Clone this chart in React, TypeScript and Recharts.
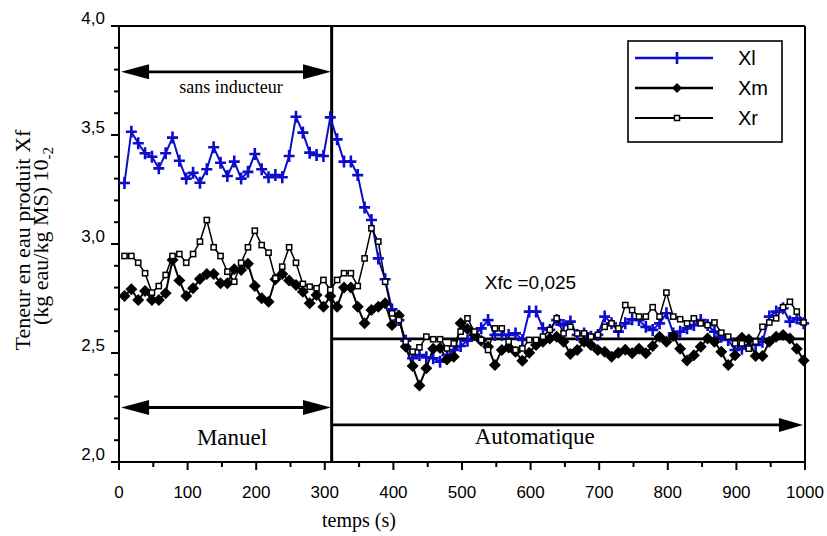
import React from 'react';
import { LineChart, Line, XAxis, YAxis, ReferenceLine, Legend } from 'recharts';

// time (s) of each sample
const times = [
  8, 18, 28, 38, 48, 58, 68, 78, 88, 98,
  108, 118, 128, 138, 148, 158, 168, 178, 188, 198,
  208, 218, 228, 238, 248, 258, 268, 278, 288, 298,
  308, 318, 328, 338, 348, 358, 368, 378, 388, 398,
  408, 418, 428, 438, 448, 458, 468, 478, 488, 498,
  508, 518, 528, 538, 548, 558, 568, 578, 588, 598,
  608, 618, 628, 638, 648, 658, 668, 678, 688, 698,
  708, 718, 728, 738, 748, 758, 768, 778, 788, 798,
  808, 818, 828, 838, 848, 858, 868, 878, 888, 898,
  908, 918, 928, 938, 948, 958, 968, 978, 988, 998,
];

const xl = [
  3.28, 3.515, 3.462, 3.416, 3.4, 3.347, 3.416, 3.488, 3.382, 3.3,
  3.327, 3.281, 3.343, 3.444, 3.373, 3.312, 3.378, 3.3, 3.331, 3.413,
  3.343, 3.306, 3.316, 3.306, 3.404, 3.584, 3.511, 3.419, 3.408, 3.404,
  3.581, 3.48, 3.378, 3.378, 3.316, 3.168, 3.11, 2.934, 2.838, 2.7,
  2.651, 2.556, 2.476, 2.491, 2.48, 2.476, 2.46, 2.49, 2.514, 2.532,
  2.556, 2.583, 2.613, 2.651, 2.583, 2.583, 2.583, 2.59, 2.56, 2.69,
  2.69, 2.613, 2.606, 2.651, 2.628, 2.644, 2.583, 2.59, 2.575, 2.583,
  2.667, 2.636, 2.598, 2.636, 2.655, 2.651, 2.62, 2.606, 2.636, 2.682,
  2.59, 2.598, 2.613, 2.628, 2.651, 2.628, 2.598, 2.575, 2.56, 2.514,
  2.52, 2.537, 2.537, 2.552, 2.667, 2.69, 2.705, 2.644, 2.659, 2.636,
];

const xm = [
  2.761, 2.792, 2.743, 2.784, 2.743, 2.743, 2.774, 2.927, 2.832, 2.761,
  2.797, 2.839, 2.862, 2.862, 2.82, 2.82, 2.884, 2.881, 2.909, 2.807,
  2.751, 2.735, 2.838, 2.862, 2.832, 2.812, 2.781, 2.728, 2.766, 2.712,
  2.761, 2.712, 2.8, 2.8, 2.712, 2.636, 2.697, 2.712, 2.728, 2.628,
  2.672, 2.529, 2.44, 2.351, 2.43, 2.52, 2.523, 2.47, 2.483, 2.636,
  2.61, 2.583, 2.556, 2.529, 2.445, 2.514, 2.525, 2.506, 2.465, 2.501,
  2.537, 2.552, 2.567, 2.575, 2.552, 2.495, 2.514, 2.552, 2.537, 2.514,
  2.506, 2.483, 2.501, 2.515, 2.499, 2.52, 2.499, 2.532, 2.575, 2.552,
  2.578, 2.52, 2.466, 2.49, 2.529, 2.567, 2.552, 2.506, 2.445, 2.49,
  2.57, 2.562, 2.486, 2.486, 2.552, 2.575, 2.583, 2.567, 2.52, 2.466,
];

const xr = [
  2.945, 2.945, 2.914, 2.866, 2.777, 2.807, 2.858, 2.945, 2.954, 2.914,
  2.954, 3.011, 3.11, 2.985, 2.945, 2.873, 2.827, 2.914, 2.985, 3.061,
  2.995, 2.96, 2.843, 2.896, 2.985, 2.914, 2.817, 2.804, 2.797, 2.835,
  2.79, 2.835, 2.866, 2.866, 2.807, 2.934, 3.072, 3.011, 2.827, 2.682,
  2.651, 2.552, 2.506, 2.526, 2.575, 2.563, 2.563, 2.521, 2.544, 2.598,
  2.659, 2.598, 2.56, 2.514, 2.613, 2.613, 2.552, 2.514, 2.521, 2.56,
  2.56, 2.575, 2.606, 2.659, 2.59, 2.62, 2.59, 2.59, 2.575, 2.583,
  2.62, 2.636, 2.613, 2.72, 2.697, 2.667, 2.667, 2.71, 2.667, 2.777,
  2.667, 2.655, 2.636, 2.659, 2.636, 2.628, 2.64, 2.593, 2.575, 2.544,
  2.544, 2.52, 2.552, 2.62, 2.64, 2.659, 2.71, 2.735, 2.69, 2.64,
];

const xTicks = [0, 50, 100, 150, 200, 250, 300, 350, 400, 450, 500, 550, 600, 650, 700, 750, 800, 850, 900, 950, 1000];
const yTicks = [2.0, 2.1, 2.2, 2.3, 2.4, 2.5, 2.6, 2.7, 2.8, 2.9, 3.0, 3.1, 3.2, 3.3, 3.4, 3.5, 3.6, 3.7, 3.8, 3.9, 4.0];

const switchTime = 310;   // manuel -> automatique
const xfcLevel = 2.565;
const sansY = 3.79;
const manuelY = 2.25;
const autoY = 2.17;

const data = times.map((t, i) => ({ t, xl: xl[i], xm: xm[i], xr: xr[i] }));

const BLUE = '#0c0ccc';
const SANS = '"Liberation Sans", Arial, Helvetica, sans-serif';
const SERIF = '"Liberation Serif", "Times New Roman", serif';

const PlusDot = (props: any) => {
  const { cx, cy, index } = props;
  if (cx == null || cy == null) return <g key={`p${index}`} />;
  return (
    <path key={`p${index}`} d={`M${cx - 5.5},${cy}H${cx + 5.5}M${cx},${cy - 6}V${cy + 6}`} stroke={BLUE} strokeWidth={2.6} fill="none" />
  );
};

const DiamondDot = (props: any) => {
  const { cx, cy, index } = props;
  if (cx == null || cy == null) return <g key={`d${index}`} />;
  return <path key={`d${index}`} d={`M${cx},${cy - 6}L${cx + 6},${cy}L${cx},${cy + 6}L${cx - 6},${cy}Z`} fill="#000" />;
};

const SquareDot = (props: any) => {
  const { cx, cy, index } = props;
  if (cx == null || cy == null) return <g key={`s${index}`} />;
  return <rect key={`s${index}`} x={cx - 2.6} y={cy - 2.6} width={5.2} height={5.2} fill="#fff" stroke="#000" strokeWidth={1.5} />;
};

const XTick = (props: any) => {
  const { x, y, payload } = props;
  const v = payload.value;
  const major = v % 100 === 0;
  return (
    <g>
      <line x1={x} x2={x} y1={y} y2={y + (major ? 8 : 5)} stroke="#000" strokeWidth={2} />
      {major && (
        <text x={x} y={y + 36} textAnchor="middle" fontSize={17} fontFamily={SANS} fill="#000">{v}</text>
      )}
    </g>
  );
};

const YTick = (props: any) => {
  const { x, y, payload } = props;
  const v = payload.value;
  const major = Math.round(v * 10) % 5 === 0;
  return (
    <g>
      <line x1={x} x2={x - (major ? 8 : 5)} y1={y} y2={y} stroke="#000" strokeWidth={2} />
      {major && (
        <text x={x - 14} y={y - 2} textAnchor="end" fontSize={17} fontFamily={SANS} fill="#000">
          {v.toFixed(1).replace('.', ',')}
        </text>
      )}
    </g>
  );
};

const head = (tipX: number, y: number, dir: number, len = 28, half = 7.5) => (
  <path d={`M${tipX},${y}L${tipX - dir * len},${y - half}L${tipX - dir * len},${y + half}Z`} fill="#000" />
);

const doubleArrow = (label: string, fontSize: number, dy: number, dx: number) => (props: any) => {
  const { x1, y1, x2 } = props;
  const left = Math.min(x1, x2);
  const right = Math.max(x1, x2);
  return (
    <g>
      <line x1={left + 20} x2={right - 20} y1={y1} y2={y1} stroke="#000" strokeWidth={2.8} />
      {head(left, y1, -1)}
      {head(right, y1, 1)}
      <text x={(left + right) / 2 + dx} y={y1 + dy} textAnchor="middle" fontSize={fontSize} fontFamily={SERIF} fill="#000">{label}</text>
    </g>
  );
};

const autoArrow = (props: any) => {
  const { x1, y1, x2 } = props;
  const left = Math.min(x1, x2);
  const right = Math.max(x1, x2);
  return (
    <g>
      <line x1={left} x2={right - 20} y1={y1} y2={y1} stroke="#000" strokeWidth={2.8} />
      {head(right, y1, 1, 24, 7)}
      <text x={left + (right - left) * 0.43} y={y1 + 19} textAnchor="middle" fontSize={23} fontFamily={SERIF} fill="#000">Automatique</text>
    </g>
  );
};

const xfcShape = (props: any) => {
  const { x1, y1, x2 } = props;
  const left = Math.min(x1, x2);
  const right = Math.max(x1, x2);
  return (
    <g>
      <line x1={left} x2={right} y1={y1} y2={y1} stroke="#000" strokeWidth={2.6} />
      <text x={left + (right - left) * 0.42} y={y1 - 50} textAnchor="middle" fontSize={19} fontFamily={SANS} fill="#000">Xfc =0,025</text>
    </g>
  );
};

const legendRows = [
  { name: 'Xl', color: BLUE, Dot: PlusDot, width: 2.4 },
  { name: 'Xm', color: '#000', Dot: DiamondDot, width: 2.4 },
  { name: 'Xr', color: '#000', Dot: SquareDot, width: 2.2 },
];

const renderLegend = () => (
  <svg width={158} height={106} style={{ display: 'block' }}>
    <rect x={1} y={1} width={154} height={101} fill="#fff" stroke="#000" strokeWidth={1.6} />
    {legendRows.map((r, i) => {
      const cy = 18 + i * 30;
      return (
        <g key={r.name}>
          <line x1={8} x2={86} y1={cy} y2={cy} stroke={r.color} strokeWidth={r.width} />
          {r.name === 'Xl' ? (
            <line x1={50} x2={50} y1={cy - 6} y2={cy + 6} stroke={BLUE} strokeWidth={2.6} />
          ) : r.name === 'Xm' ? (
            <path d={`M50,${cy - 5}L55,${cy}L50,${cy + 5}L45,${cy}Z`} fill="#000" />
          ) : (
            <rect x={47.5} y={cy - 2.5} width={5} height={5} fill="#fff" stroke="#000" strokeWidth={1.5} />
          )}
          <text x={111} y={cy + 7} fontSize={20} fontFamily={SANS} fill="#000">{r.name}</text>
        </g>
      );
    })}
  </svg>
);

const renderYLabel = () => (
  <g fontFamily={SERIF} fill="#000">
    <text transform="translate(30,240) rotate(-90)" textAnchor="middle" fontSize={22}>Teneur en eau produit Xf</text>
    <text transform="translate(48,236) rotate(-90)" textAnchor="middle" fontSize={22}>
      (kg eau/kg MS) 10<tspan fontSize={15} dy={5}>-2</tspan>
    </text>
  </g>
);

const renderXLabel = () => (
  <text x={359} y={527} textAnchor="middle" fontSize={20} fontFamily={SERIF} fill="#000">temps (s)</text>
);

export default function App() {
  return (
    <div style={{ position: 'absolute', left: 0, top: 0, width: 827, height: 536, background: '#fff' }}>
      <LineChart width={827} height={536} data={data} margin={{ top: 26, right: 22, bottom: 0, left: 0 }}>
        <XAxis
          dataKey="t"
          type="number"
          domain={[0, 1000]}
          ticks={xTicks}
          interval={0}
          height={74}
          tickSize={0}
          tickMargin={0}
          tick={<XTick />}
          tickLine={false}
          axisLine={{ stroke: '#000', strokeWidth: 2 }}
          label={renderXLabel}
        />
        <YAxis
          type="number"
          domain={[2, 4]}
          ticks={yTicks}
          interval={0}
          width={119}
          tickSize={0}
          tickMargin={0}
          tick={<YTick />}
          tickLine={false}
          axisLine={{ stroke: '#000', strokeWidth: 2 }}
          allowDataOverflow
          label={renderYLabel}
        />
        <ReferenceLine y={4} stroke="#000" strokeWidth={2} />
        <ReferenceLine x={1000} stroke="#000" strokeWidth={2} />
        <ReferenceLine x={switchTime} stroke="#000" strokeWidth={3} />
        <ReferenceLine segment={[{ x: switchTime, y: xfcLevel }, { x: 1000, y: xfcLevel }]} shape={xfcShape} />
        <ReferenceLine segment={[{ x: 3, y: sansY }, { x: switchTime - 1, y: sansY }]} shape={doubleArrow('sans inducteur', 18, 21, 5)} />
        <ReferenceLine segment={[{ x: 3, y: manuelY }, { x: switchTime - 1, y: manuelY }]} shape={doubleArrow('Manuel', 23, 37, 6)} />
        <ReferenceLine segment={[{ x: switchTime + 1, y: autoY }, { x: 997, y: autoY }]} shape={autoArrow} />
        <Line dataKey="xl" stroke={BLUE} strokeWidth={2} dot={PlusDot} isAnimationActive={false} />
        <Line dataKey="xm" stroke="#000" strokeWidth={2} dot={DiamondDot} isAnimationActive={false} />
        <Line dataKey="xr" stroke="#000" strokeWidth={1.5} dot={SquareDot} isAnimationActive={false} />
        <Legend
          layout="horizontal"
          verticalAlign="middle"
          align="center"
          content={renderLegend}
          wrapperStyle={{ left: 627, top: 40, width: 158, height: 106 }}
        />
      </LineChart>
    </div>
  );
}
